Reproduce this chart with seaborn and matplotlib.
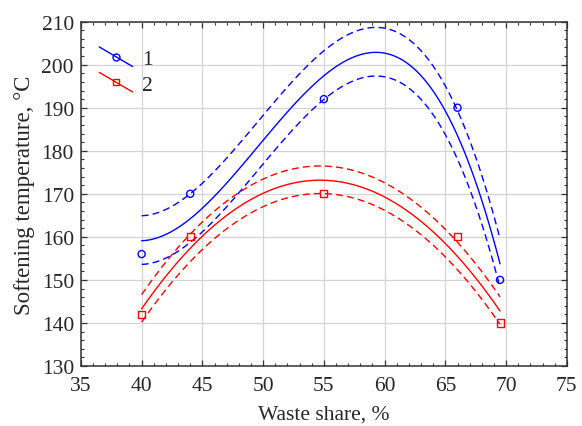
import numpy as np
import pandas as pd
import matplotlib
matplotlib.use("Agg")
import matplotlib.pyplot as plt
from matplotlib.lines import Line2D
from matplotlib.legend_handler import HandlerLine2D
from matplotlib.ticker import MultipleLocator
import seaborn as sns

# ---- data ----
waste_1 = [40, 44, 55, 66, 69.5]
temp_1 = [156, 170, 192, 190, 150]
waste_2 = [40, 44, 55, 66, 69.5]
temp_2 = [142, 160, 170, 160, 140]
order_1 = 3          # polynomial order of the fitted curve, series 1
order_2 = 2          # series 2
band_1 = (5.8, 5.5)  # upper / lower offset of dashed band, series 1
band_2 = (3.3, 3.1)  # series 2
labels = ["1", "2"]
x_ticks = [35, 40, 45, 50, 55, 60, 65, 70, 75]
y_ticks = [130, 140, 150, 160, 170, 180, 190, 200, 210]

BLUE = "#0000FF"
RED = "#FF0000"

sns.set_style("ticks")
plt.rcParams["font.family"] = ["Liberation Serif", "DejaVu Serif"]

fig = plt.figure(figsize=(5.82, 4.27), dpi=100)
ax = fig.add_axes([0.139, 0.1405, 0.835, 0.8065])

df1 = pd.DataFrame({"x": waste_1, "y": temp_1})
df2 = pd.DataFrame({"x": waste_2, "y": temp_2})

def draw_series(df, order, band, color):
    sns.regplot(data=df, x="x", y="y", order=order, ci=None, scatter=False,
                ax=ax, line_kws=dict(color=color, lw=1.0, zorder=3))
    up = df.assign(y=df["y"] + band[0])
    lo = df.assign(y=df["y"] - band[1])
    for d in (up, lo):
        sns.regplot(data=d, x="x", y="y", order=order, ci=None, scatter=False,
                    ax=ax, line_kws=dict(color=color, lw=1.0, ls=(0, (5, 3)), zorder=3))

draw_series(df1, order_1, band_1, BLUE)
draw_series(df2, order_2, band_2, RED)

sns.scatterplot(data=df1, x="x", y="y", marker="o", s=26, facecolor="none",
                edgecolor=BLUE, linewidth=1.0, ax=ax, zorder=4)
sns.scatterplot(data=df2, x="x", y="y", marker="s", s=26, facecolor="none",
                edgecolor=RED, linewidth=1.0, ax=ax, zorder=4)

ax.set_xlim(x_ticks[0], x_ticks[-1])
ax.set_ylim(y_ticks[0], y_ticks[-1])
ax.set_xticks(x_ticks)
ax.set_yticks(y_ticks)
ax.xaxis.set_minor_locator(MultipleLocator(1))
ax.yaxis.set_minor_locator(MultipleLocator(2))
ax.grid(True, which="major", color="#d4d4d4", lw=0.9, zorder=0)
ax.set_axisbelow(True)
ax.tick_params(which="both", direction="in", top=True, right=True,
               labelsize=15.5, color="#333333")
ax.tick_params(which="major", length=4, width=0.9)
ax.tick_params(which="minor", length=2.5, width=0.8)
ax.tick_params(axis="x", which="major", pad=7)
ax.tick_params(axis="y", which="major", pad=5)
for sp in ax.spines.values():
    sp.set_linewidth(1.1)
    sp.set_color("#333333")

ax.set_xlabel("Waste share, %", fontsize=15.5, labelpad=7)
ax.set_ylabel("Softening temperature, °C", fontsize=16.5, labelpad=5)


class SlantHandler(HandlerLine2D):
    def create_artists(self, legend, orig_handle, xdescent, ydescent,
                       width, height, fontsize, trans):
        x0, x1 = -xdescent, -xdescent + width
        y0, y1 = -ydescent + height * 1.15, -ydescent - height * 0.15
        line = Line2D([x0, x1], [y0, y1])
        self.update_prop(line, orig_handle, legend)
        line.set_marker("None")
        mk = Line2D([(x0 + x1) / 2], [(y0 + y1) / 2])
        self.update_prop(mk, orig_handle, legend)
        mk.set_linestyle("None")
        line.set_transform(trans)
        mk.set_transform(trans)
        return [line, mk]


handles = [Line2D([], [], color=BLUE, lw=1.0, marker="o", ms=5, mfc="none", mew=1.0),
           Line2D([], [], color=RED, lw=1.0, marker="s", ms=5, mfc="none", mew=1.0)]
ax.legend(handles, labels, loc="upper left", bbox_to_anchor=(0.02, 0.945),
          frameon=False, fontsize=15.5, handlelength=1.55, handletextpad=0.45,
          labelspacing=0.25, borderaxespad=0,
          handler_map={Line2D: SlantHandler()})

fig.savefig("out.png", dpi=100)
